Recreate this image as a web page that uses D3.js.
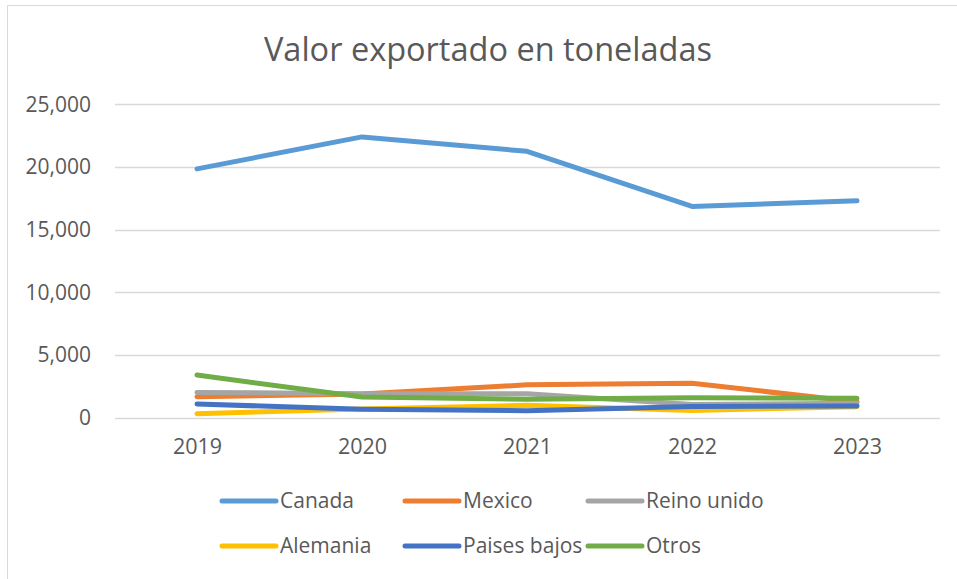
<!DOCTYPE html>
<html>
<head>
<meta charset="utf-8">
<script src="https://cdn.jsdelivr.net/npm/d3@7"></script>
<style>
  html, body { margin: 0; padding: 0; background: #fff; }
  svg { display: block; }
  text { font-family: "Open Sans", Lato, sans-serif; fill: #595959; }
</style>
</head>
<body>
<svg id="chart" width="957" height="579"></svg>
<script>
const years = ["2019", "2020", "2021", "2022", "2023"];
const seriesNames = ["Canada", "Mexico", "Reino unido", "Alemania", "Paises bajos", "Otros"];
const canada = [19850, 22400, 21250, 16850, 17300];
const mexico = [1680, 1900, 2620, 2740, 1280];
const reinoUnido = [2020, 1920, 1920, 1050, 1150];
const alemania = [320, 700, 990, 580, 880];
const paisesBajos = [1090, 680, 560, 890, 940];
const otros = [3400, 1650, 1470, 1590, 1550];
const yTicks = [0, 5000, 10000, 15000, 20000, 25000];
const colors = ["#5B9BD5", "#ED7D31", "#A5A5A5", "#FFC000", "#4472C4", "#70AD47"];
const title = "Valor exportado en toneladas";

const seriesValues = [canada, mexico, reinoUnido, alemania, paisesBajos, otros];
const FONT = "'Open Sans', Lato, sans-serif";

const svg = d3.select("#chart");

// chart area border (only left and top visible)
svg.append("rect").attr("x", 7.5).attr("y", 5.5).attr("width", 1000).attr("height", 1000)
  .attr("fill", "none").attr("stroke", "#d9d9d9").attr("stroke-width", 1);

const x = d3.scalePoint().domain(years).range([197, 857]);
const y = d3.scaleLinear().domain([0, 25000]).range([417.7, 104.3]);

// gridlines
svg.append("g").selectAll("line").data(yTicks).join("line")
  .attr("x1", 115).attr("x2", 940)
  .attr("y1", d => Math.round(y(d)) + 0.5).attr("y2", d => Math.round(y(d)) + 0.5)
  .attr("stroke", "#d9d9d9").attr("stroke-width", 1.3);

// y axis labels
const yAxis = d3.axisLeft(y).tickValues(yTicks).tickFormat(d3.format(",")).tickSize(0).tickPadding(0);
const gy = svg.append("g").attr("transform", "translate(91,0)").call(yAxis);
gy.select(".domain").remove();
gy.selectAll("text").attr("font-size", 21).attr("fill", "#595959").style("font-family", FONT);

// x axis labels
const xAxis = d3.axisBottom(x).tickSize(0).tickPadding(0);
const gx = svg.append("g").attr("transform", "translate(0,439)").call(xAxis);
gx.select(".domain").remove();
gx.selectAll("text").attr("font-size", 21.5).attr("fill", "#595959").style("font-family", FONT);

// lines
const line = d3.line().x((d, i) => x(years[i])).y(d => y(d));
svg.append("g").selectAll("path").data(seriesValues).join("path")
  .attr("d", d => line(d))
  .attr("fill", "none")
  .attr("stroke", (d, i) => colors[i])
  .attr("stroke-width", 5)
  .attr("stroke-linecap", "round")
  .attr("stroke-linejoin", "round");

// title
svg.append("text").attr("x", 488).attr("y", 61).attr("text-anchor", "middle")
  .attr("font-size", 32.5).text(title);

// legend
const legendPos = [
  {lx: 222, ty: 501}, {lx: 405, ty: 501}, {lx: 588, ty: 501},
  {lx: 222, ty: 546}, {lx: 405, ty: 546}, {lx: 588, ty: 546}
];
const lg = svg.append("g").selectAll("g").data(seriesNames).join("g")
  .attr("transform", (d, i) => `translate(${legendPos[i].lx},${legendPos[i].ty})`);
lg.append("line").attr("x1", 0).attr("x2", 54).attr("y1", 0).attr("y2", 0)
  .attr("stroke", (d, i) => colors[i]).attr("stroke-width", 5).attr("stroke-linecap", "round");
lg.append("text").attr("x", 58).attr("y", 0).attr("dy", "0.35em").attr("font-size", 21).text(d => d);
</script>
</body>
</html>
